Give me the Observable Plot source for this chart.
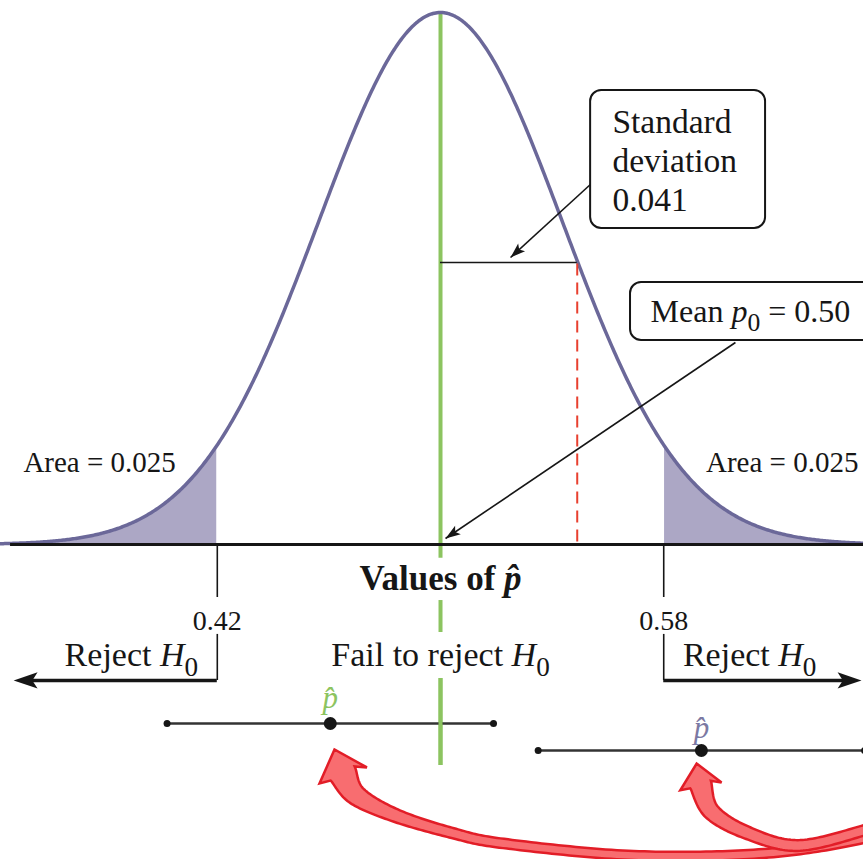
<!DOCTYPE html>
<html><head><meta charset="utf-8">
<script src="https://cdn.jsdelivr.net/npm/d3@7"></script>
<script src="https://cdn.jsdelivr.net/npm/@observablehq/plot@0.6"></script>
<style>html,body{margin:0;padding:0;background:#fff;overflow:hidden}#chart svg{display:block;overflow:hidden}</style>
</head><body><div id="chart"></div>
<script>
// ---------- data ----------
const mean = 0.50;
const sdLabel = "0.041";
const curveSd = 0.0437;            // spread of the drawn curve
const criticalValues = [0.42, 0.58];
const criticalLabels = ["0.42", "0.58"];
const tailAreaLabel = "Area = 0.025";
const sdMarkerX = 0.549;           // end of the standard-deviation marker
const intervalCenters = [0.4605, 0.5935];
const intervalHalfWidth = 0.0585;
const xDomain = [0.3423, 0.6516];
const yDomain = [-0.5921, 1.0226];

// ---------- layout (data units: x = p-hat, y = density relative to peak) ----------
const rows = {
  sdLine: 0.530, area: 0.154, title: -0.064, tickEnd: -0.0996, tickLabel: -0.143,
  bracketTop: -0.169, regionLabel: -0.2086, bracketY: -0.2556,
  interval: [-0.3365, -0.3872], phat: [-0.2885, -0.3455]
};
const greenSegments = [[1.0, -0.026], [-0.1053, -0.1654], [-0.2519, -0.4154]];
const sdBox = {x1: 0.5538, x2: 0.6165, y1: 0.8534, y2: 0.594};
const meanBox = {x1: 0.5681, x2: 0.665, y1: 0.4925, y2: 0.3835};
const calloutArrows = [
  {x1: 0.5545, y1: 0.6805, x2: 0.5251, y2: 0.5395},
  {x1: 0.6057, y1: 0.3797, x2: 0.5018, y2: 0.0113}
];
const redPathLeft = [[0.4649,-0.4305],[0.4699,-0.4718],[0.4839,-0.5094],[0.5036,-0.5414],[0.5226,-0.5620],[0.5692,-0.5846],[0.6158,-0.5808],[0.6516,-0.5526],[0.6792,-0.5094]];
const redPathRight = [[0.5932,-0.4511],[0.5971,-0.5019],[0.6097,-0.5414],[0.6280,-0.5658],[0.6516,-0.5376],[0.6720,-0.50]];
const redTips = [[0.4620, -0.3853], [0.5918, -0.4117]];

// ---------- colours ----------
const C = {curve: "#6b6899", shade: "#aca7c5", green: "#8cc460", red: "#e8402f",
           ink: "#161616", purple: "#7b79a3", arrowRed: "#e21d27", arrowPink: "#f86d70"};
const FONT = "Liberation Serif, Times New Roman, serif";

// ---------- derived ----------
const grid = d3.range(xDomain[0], xDomain[1] + 1e-9, 0.0005);
const density = grid.map(x => ({x, y: Math.exp(-0.5 * ((x - mean) / curveSd) ** 2)}));
const leftTail = density.filter(d => d.x <= criticalValues[0] + 1e-9);
const rightTail = density.filter(d => d.x >= criticalValues[1] - 1e-9);
const curveAt = x => Math.exp(-0.5 * ((x - mean) / curveSd) ** 2);

const stealth = {draw(ctx, size) { const s = Math.sqrt(size);
  ctx.moveTo(0, -0.5 * s); ctx.lineTo(0.34 * s, 0.5 * s); ctx.lineTo(0, 0.28 * s); ctx.lineTo(-0.34 * s, 0.5 * s); ctx.closePath(); }};

const W = 863, H = 859;
const kx = W / (xDomain[1] - xDomain[0]), ky = H / (yDomain[1] - yDomain[0]);
const toPx = ([x, y]) => [(x - xDomain[0]) * kx, (yDomain[1] - y) * ky];
const toData = ([px, py]) => ({x: xDomain[0] + px / kx, y: yDomain[1] - py / ky});

// filled heads for the call-out arrows
const headLen = 15;
const calloutHeads = calloutArrows.map(a => {
  const [px1, py1] = toPx([a.x1, a.y1]), [px2, py2] = toPx([a.x2, a.y2]);
  const l = Math.hypot(px2 - px1, py2 - py1), ux = (px2 - px1) / l, uy = (py2 - py1) / l;
  return {...toData([px2 - ux * headLen / 2, py2 - uy * headLen / 2]), rot: Math.atan2(ux, -uy) * 180 / Math.PI};
});

// outline of a curved, tapering block arrow (shape only)
function catmull(pts, n = 24) {
  const out = [];
  for (let i = 0; i < pts.length - 1; i++) {
    const p0 = pts[Math.max(i - 1, 0)], p1 = pts[i], p2 = pts[i + 1], p3 = pts[Math.min(i + 2, pts.length - 1)];
    for (let k = 0; k < n; k++) {
      const t = k / n, t2 = t * t, t3 = t2 * t;
      out.push([0, 1].map(j => 0.5 * (2 * p1[j] + (-p0[j] + p2[j]) * t + (2 * p0[j] - 5 * p1[j] + 4 * p2[j] - p3[j]) * t2 + (-p0[j] + 3 * p1[j] - 3 * p2[j] + p3[j]) * t3)));
    }
  }
  out.push(pts[pts.length - 1]);
  return out;
}
function arrowOutline(path, tip, w0, w1, headHalf) {
  const c = catmull(path.map(toPx));
  const T = toPx(tip);
  let s = 0; const left = [], right = [];
  c.forEach((p, i) => {
    if (i) s += Math.hypot(p[0] - c[i - 1][0], p[1] - c[i - 1][1]);
    const a = c[Math.max(i - 1, 0)], b = c[Math.min(i + 1, c.length - 1)];
    let tx = b[0] - a[0], ty = b[1] - a[1]; const l = Math.hypot(tx, ty); tx /= l; ty /= l;
    const w = (w1 + (w0 - w1) * Math.exp(-s / 45)) / 2;
    left.push([p[0] - ty * w, p[1] + tx * w]); right.push([p[0] + ty * w, p[1] - tx * w]);
  });
  const B = c[0]; let hx = B[0] - T[0], hy = B[1] - T[1]; const hl = Math.hypot(hx, hy); hx /= hl; hy /= hl;
  const barbL = [B[0] - hy * headHalf + hx * 2, B[1] + hx * headHalf + hy * 2];
  const barbR = [B[0] + hy * headHalf + hx * 2, B[1] - hx * headHalf + hy * 2];
  return [...left.slice().reverse(), barbL, T, barbR, ...right].map(toData);
}
const redLeft = arrowOutline(redPathLeft, redTips[0], 28, 9, 25);
const redRight = arrowOutline(redPathRight, redTips[1], 22, 10, 21);

const intervals = intervalCenters.map((c, i) => ({c, lo: c - intervalHalfWidth, hi: c + intervalHalfWidth, y: rows.interval[i]}));
const ends = intervals.flatMap(d => [{x: d.lo, y: d.y}, {x: d.hi, y: d.y}]);

const textBase = {fontFamily: FONT, fill: C.ink};

const plot = Plot.plot({
  width: W, height: H, margin: 0,
  x: {domain: xDomain, axis: null},
  y: {domain: yDomain, axis: null},
  style: {background: "#fff"},
  marks: [
    Plot.areaY(leftTail, {x: "x", y: "y", fill: C.shade}),
    Plot.areaY(rightTail, {x: "x", y: "y", fill: C.shade}),
    Plot.ruleX(greenSegments, {x: () => mean, y1: d => d[0], y2: d => d[1], stroke: C.green, strokeWidth: 4}),
    Plot.line(density, {x: "x", y: "y", stroke: C.curve, strokeWidth: 3.5}),
    Plot.ruleY([0], {x1: 0.3459, x2: xDomain[1], stroke: C.ink, strokeWidth: 3}),
    // standard deviation marker
    Plot.ruleY([rows.sdLine], {x1: mean, x2: sdMarkerX, stroke: C.ink, strokeWidth: 1.6}),
    Plot.ruleX([sdMarkerX], {y1: curveAt(sdMarkerX) - 0.006, y2: 0, stroke: C.red, strokeWidth: 2, strokeDasharray: "12,7"}),
    // critical value ticks and brackets
    Plot.ruleX(criticalValues, {y1: 0, y2: rows.tickEnd, stroke: C.ink, strokeWidth: 1.6}),
    Plot.ruleX(criticalValues, {y1: rows.bracketTop, y2: rows.bracketY, stroke: C.ink, strokeWidth: 1.6}),
    Plot.text(criticalValues, {x: d => d, y: rows.tickLabel, text: (d, i) => criticalLabels[i], fontSize: 28, ...textBase}),
    Plot.ruleY([rows.bracketY], {x1: criticalValues[0], x2: 0.3513, stroke: C.ink, strokeWidth: 3.5}),
    Plot.ruleY([rows.bracketY], {x1: criticalValues[1], x2: 0.6466, stroke: C.ink, strokeWidth: 3.5}),
    Plot.dot([{x: 0.3513, rot: -90}, {x: 0.6466, rot: 90}], {x: "x", y: () => rows.bracketY, rotate: "rot", symbol: stealth, r: 13.5, fill: C.ink, stroke: "none"}),
    Plot.text(["Reject *H*_0", "Fail to reject *H*_0", "Reject *H*_0"], {x: [0.3892, 0.5, 0.6108], y: rows.regionLabel, text: d => d, fontSize: 34, ...textBase}),
    Plot.text(["Values of *p\u0302*"], {x: mean, y: rows.title, text: d => d, fontSize: 35, fontWeight: "bold", ...textBase}),
    // tail area labels
    Plot.text([tailAreaLabel], {x: 0.3505, y: rows.area, text: d => d, textAnchor: "start", fontSize: 29, ...textBase}),
    Plot.text([tailAreaLabel], {x: 0.6498, y: rows.area, text: d => d, textAnchor: "end", fontSize: 29, ...textBase}),
    // call-outs
    Plot.link(calloutArrows, {x1: "x1", y1: "y1", x2: "x2", y2: "y2", stroke: C.ink, strokeWidth: 1.6}),
    Plot.dot(calloutHeads, {x: "x", y: "y", rotate: "rot", symbol: stealth, r: headLen / Math.sqrt(Math.PI), fill: C.ink, stroke: "none"}),
    Plot.rect([sdBox, meanBox], {x1: "x1", x2: "x2", y1: "y1", y2: "y2", rx: 11, fill: "#fff", stroke: C.ink, strokeWidth: 2}),
    Plot.text([`Standard\ndeviation\n${sdLabel}`], {x: 0.5616, y: (sdBox.y1 + sdBox.y2) / 2, text: d => d, textAnchor: "start", lineHeight: 1.17, fontSize: 33.5, ...textBase}),
    Plot.text([`Mean *p*_0 = ${mean.toFixed(2)}`], {x: 0.5753, y: (meanBox.y1 + meanBox.y2) / 2, text: d => d, textAnchor: "start", fontSize: 32, ...textBase}),
    // sample intervals
    Plot.ruleY(intervals, {x1: "lo", x2: "hi", y: "y", stroke: "#333", strokeWidth: 2.5}),
    Plot.ruleX([mean], {y1: greenSegments[2][0], y2: greenSegments[2][1], stroke: C.green, strokeWidth: 4}),
    Plot.dot(ends, {x: "x", y: "y", r: 3.5, fill: C.ink}),
    Plot.dot(intervals, {x: "c", y: "y", r: 6.5, fill: C.ink}),
    Plot.text(intervals, {x: "c", y: (d, i) => rows.phat[i], text: () => "p\u0302", fontStyle: "italic", fontSize: 31, fontFamily: FONT, fill: (d, i) => i ? C.purple : C.green}),
    // red curved arrows
    Plot.line(redLeft, {x: "x", y: "y", fill: C.arrowPink, stroke: C.arrowRed, strokeWidth: 2.5, strokeLinejoin: "miter", strokeMiterlimit: 4}),
    Plot.line(redRight, {x: "x", y: "y", fill: C.arrowPink, stroke: C.arrowRed, strokeWidth: 2.5, strokeLinejoin: "miter", strokeMiterlimit: 4})
  ]
});

// rich text: *italic*, _x subscript
function richify(svg) {
  const NS = "http://www.w3.org/2000/svg";
  svg.querySelectorAll("text, tspan").forEach(el => {
    if (el.children.length) return;
    const s = el.textContent;
    if (!/[*_]/.test(s)) return;
    let fs = 16;
    for (let n = el; n && n !== svg.parentNode; n = n.parentNode) {
      const a = n.getAttribute && n.getAttribute("font-size");
      if (a) { fs = parseFloat(a); break; }
    }
    el.textContent = "";
    const re = /\*([^*]+)\*|_(\S)|([^*_]+)/g;
    let m, shift = 0;
    while ((m = re.exec(s))) {
      const t = document.createElementNS(NS, "tspan");
      if (m[2]) {
        t.textContent = m[2];
        t.setAttribute("font-size", fs * 0.8);
        t.setAttribute("dy", fs * 0.28);
        shift = fs * 0.28;
        el.appendChild(t);
        continue;
      }
      if (m[1]) { t.setAttribute("font-style", "italic"); t.textContent = m[1]; }
      else t.textContent = m[3];
      if (shift) { t.setAttribute("dy", -shift); shift = 0; }
      el.appendChild(t);
    }
  });
}
richify(plot);
document.getElementById("chart").appendChild(plot);
</script>
</body></html>
